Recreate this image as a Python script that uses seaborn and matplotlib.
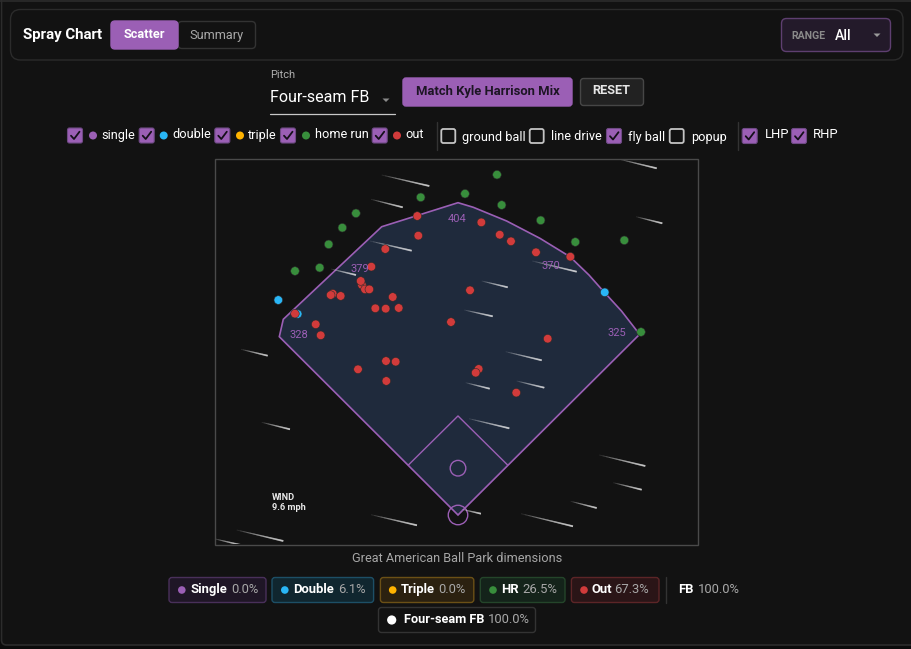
"""Spray chart: batted balls on a park outline, with the page controls around it."""

import matplotlib.pyplot as plt
import numpy as np
import pandas as pd
import seaborn as sns
from matplotlib.patches import Circle, FancyBboxPatch, Polygon, Rectangle

# batted balls, feet from home plate
double_x = [-230.4, -205.5, 188.1]
double_y = [275.6, 257.7, 285.5]
hr_x = [-47.8, -130.8, -148.3, -165.8, -209.0, -177.3, 50.0, 9.0, 56.0, 106.0, 150.4, 213.2, 234.6]
hr_y = [407.3, 386.8, 368.3, 347.0, 312.8, 317.0, 436.3, 411.9, 397.4, 377.8, 350.0, 352.2, 234.6]
out_x = [-52.2, -50.9, -93.2, -111.1, -123.1, -124.7, -119.2, -113.7, -160.6, -163.2, -150.4,
         -83.7, -106.0, -92.7, -76.0, -9.0, -209.0, -182.4, -176.0, 29.9, 53.5, 67.9, 100.0,
         144.0, 15.4, 115.0, -92.3, -79.9, -128.2, -91.9, 26.5, 22.7, 74.7]
out_y = [383.3, 358.1, 341.0, 318.3, 294.9, 300.0, 289.3, 289.3, 283.7, 282.0, 280.8,
         279.5, 265.0, 264.5, 265.4, 247.4, 258.1, 244.5, 230.4, 375.2, 359.3, 350.9, 336.8,
         331.1, 288.1, 226.0, 197.4, 196.5, 186.8, 171.8, 187.2, 182.4, 156.8]

# park outline, feet from home plate
wall_x = [0, -229.1, -224.0, -97.8, 0, 19.6, 62.4, 105.1, 143.6, 167.9, 187.6, 209.6, 229.5, 232.0]
wall_y = [0, 228.6, 250.9, 369.6, 400.4, 394.5, 376.9, 354.7, 331.1, 307.7, 285.5, 261.5, 235.9, 230.8]
dim_labels = ["328", "379", "404", "370", "325"]

# summary chips
chip_names = ["Single", "Double", "Triple", "HR", "Out"]
chip_pcts = ["0.0%", "6.1%", "0.0%", "26.5%", "67.3%"]

# wind streaks in page pixels (x0, y0, x1, y1)
wind_streaks = [
    (381.7, 175, 429.3, 186), (371, 199.3, 402.7, 207.3), (370, 241, 411.7, 250.7),
    (331, 269, 356, 275), (241, 349.3, 267.7, 355.7), (261.7, 422.3, 290, 429.3),
    (371, 514.7, 417, 525.3), (236.7, 530, 283.3, 541), (214, 538.7, 240.7, 545),
    (618.3, 159, 656.7, 168.3), (636, 216.7, 662.3, 223.3), (532.3, 261, 576.7, 271.7),
    (481.7, 281, 507.7, 287.3), (464.3, 310, 492.7, 316.3), (505.7, 351.7, 541.7, 360.3),
    (465.7, 382.7, 489.7, 388.7), (516.7, 381, 544.3, 387.7), (469, 418.7, 509.3, 428.3),
    (599.3, 455, 645.3, 466), (613.3, 482.7, 641.7, 489.7), (570.7, 501.3, 596.7, 508),
    (521, 513.7, 573, 526.3), (461.7, 509.3, 481, 513.7),
]

BG = "#121212"
PURPLE = "#9b5fb5"
FIELD = "#1f2a3c"
COLORS = {"single": PURPLE, "double": "#29b6f6", "triple": "#ffb300", "home run": "#388e3c", "out": "#d13b3b"}
PX_PER_FT = 0.78
HOME_PX = (458.0, 515.0)
W, H = 911, 649


def ft_x(px):
    return (np.asarray(px) - HOME_PX[0]) / PX_PER_FT


def ft_y(py):
    return (HOME_PX[1] - np.asarray(py)) / PX_PER_FT


def box(ax, x0, y0, x1, y1, face="none", edge="#333333", r=4, lw=1.0, z=2):
    ax.add_patch(FancyBboxPatch(
        (x0 + r, y0 + r), x1 - x0 - 2 * r, y1 - y0 - 2 * r,
        boxstyle=f"round,pad={r},rounding_size={r}",
        fc=face, ec=edge, lw=lw, zorder=z,
    ))


def label(ax, x, y, s, px=14, color="white", weight="normal", ha="left", **kw):
    ax.text(x, y, s, fontsize=px * 0.72, color=color, fontweight=weight, ha=ha, va="center", zorder=5, **kw)


def checkbox(ax, x, y, checked=True):
    if checked:
        box(ax, x - 7.5, y - 7.5, x + 7.5, y + 7.5, face=PURPLE, edge="#6f4a85", r=2, lw=0.8)
        ax.plot([x - 4, x - 1, x + 4.5], [y + 0.2, y + 3.5, y - 3.8], color="#15101a", lw=1.3, zorder=4)
    else:
        box(ax, x - 7, y - 7, x + 7, y + 7, edge="#c4c4c4", r=2, lw=1.3)


def dot(ax, x, y, color, r=3.8):
    ax.add_patch(Circle((x, y), r, fc=color, ec="none", zorder=4))


def draw_page(ax):
    ax.set_xlim(0, W)
    ax.set_ylim(H, 0)
    ax.axis("off")

    box(ax, 1.5, -10, 925, 645, face=BG, edge="#2c2c2c", r=5, lw=1.2, z=0)
    ax.plot([0, W], [0.5, 0.5], color="#2c2c2c", lw=1.2, zorder=1)

    # header
    box(ax, 10.5, 9.5, 903, 60, edge="#2b2b2b", r=10)
    label(ax, 23, 35, "Spray Chart", px=15, weight="bold")
    box(ax, 178, 21.5, 255.5, 48.5, edge="#333333", r=4)
    box(ax, 111, 21, 178, 49, face=PURPLE, edge=PURPLE, r=4)
    label(ax, 144.5, 35, "Scatter", px=12.8, weight="bold", ha="center")
    label(ax, 216.5, 35, "Summary", px=12.8, color="#a8a8a8", ha="center")
    box(ax, 781.5, 18.5, 890.5, 51.5, face="#231a2a", edge="#5e3f70", r=5)
    label(ax, 791, 36, "RANGE", px=10.5, color="#8a8a8a", weight="bold")
    label(ax, 834.5, 35.5, "All", px=14, weight="medium")
    ax.add_patch(Polygon([(873.5, 33.5), (880.5, 33.5), (877, 37)], fc="#9a9a9a", ec="none", zorder=4))

    # pitch selector row
    label(ax, 270, 74.5, "Pitch", px=11, color="#b0b0b0")
    label(ax, 270.5, 97.5, "Four-seam FB", px=16)
    ax.plot([270, 395], [113.5, 113.5], color="#c8c8c8", lw=0.9, zorder=3)
    ax.add_patch(Polygon([(382.5, 98.5), (389.5, 98.5), (386, 102)], fc="#8a8a8a", ec="none", zorder=4))
    box(ax, 403, 78, 572, 106, face=PURPLE, edge=PURPLE, r=3)
    label(ax, 487.5, 91.5, "Match Kyle Harrison Mix", px=13, color="#1d1524", weight="bold", ha="center")
    box(ax, 580.5, 78.5, 643.5, 105.5, face="#222222", edge="#464646", r=3)
    label(ax, 611.5, 91, "RESET", px=12.8, color="#e6e6e6", weight="bold", ha="center")

    # filters
    for x, dx, lx, name in zip([75, 146.7, 222.3, 288, 379.7], [93, 163.7, 240, 306, 397],
                               [101.5, 172.7, 248, 314.7, 405], COLORS):
        checkbox(ax, x, 135.5)
        dot(ax, dx, 135.5, COLORS[name], r=4)
        label(ax, lx, 135, name, px=12.8)
    ax.plot([436.7, 436.7], [122, 150], color="#333333", lw=1, zorder=3)
    for x, lx, name, on in zip([448.3, 536.7, 614, 676.7], [462, 551, 627.7, 690.7],
                               ["ground ball", "line drive", "fly ball", "popup"],
                               [False, False, True, False]):
        checkbox(ax, x, 136, on)
        label(ax, lx, 137, name, px=12.8)
    ax.plot([738, 738], [122, 150], color="#333333", lw=1, zorder=3)
    for x, lx, name in zip([749.7, 799], [764.7, 813], ["LHP", "RHP"]):
        checkbox(ax, x, 136)
        label(ax, lx, 135, name, px=13)

    # panel caption
    label(ax, 457, 558, "Great American Ball Park dimensions", px=12.75, color="#a6a6a6", ha="center")

    # summary chips
    chip_boxes = [(169, 266), (272, 373.6), (380.4, 473.8), (480.3, 565), (571.4, 659)]
    chip_faces = ["#1f1626", "#10262f", "#2b2110", "#14231a", "#2a1517"]
    chip_edges = ["#49305a", "#1d4f66", "#6b5016", "#24452a", "#5c2527"]
    dots_x = [181.8, 284.8, 392.7, 493, 584]
    names_x = [190.6, 293.6, 401, 501, 592]
    pcts_x = [230.8, 338, 438.2, 522, 613.9]
    for i, key in enumerate(COLORS):
        box(ax, chip_boxes[i][0], 577.5, chip_boxes[i][1], 602.5, face=chip_faces[i], edge=chip_edges[i], r=3)
        dot(ax, dots_x[i], 590, COLORS[key])
        label(ax, names_x[i], 589.5, chip_names[i], px=13, weight="bold")
        label(ax, pcts_x[i], 589.5, chip_pcts[i], px=13, color="#a8a8a8")
    ax.plot([665.5, 665.5], [577, 603], color="#333333", lw=1, zorder=3)
    label(ax, 678.6, 589.5, "FB", px=13, weight="bold")
    label(ax, 697.7, 589.5, "100.0%", px=13, color="#a8a8a8")
    box(ax, 378.5, 607.5, 535.5, 632.5, edge="#333333", r=3)
    dot(ax, 391.7, 620, "white", r=4.6)
    label(ax, 403.5, 619.5, "Four-seam FB", px=12.8, weight="bold")
    label(ax, 488, 619.5, "100.0%", px=13, color="#a8a8a8")


def draw_streaks(ax):
    # stacked faint lines that all end at the head, so the tail fades without seams
    for x0, y0, x1, y1 in wind_streaks:
        for t in np.linspace(0, 0.92, 14):
            ax.plot(
                ft_x([x0 + (x1 - x0) * t, x1]), ft_y([y0 + (y1 - y0) * t, y1]),
                color="white", alpha=0.1, lw=0.7 + 0.9 * t,
                solid_capstyle="butt", zorder=3,
            )


def draw_field(ax):
    ax.set_xlim(ft_x(216), ft_x(698))
    ax.set_ylim(ft_y(544), ft_y(159))
    ax.axis("off")

    ax.add_patch(Polygon(np.c_[wall_x, wall_y], closed=True, fc=FIELD, ec=PURPLE, lw=1.2, zorder=1))
    ax.plot([-63.7, 0, 63.7], [64, 127, 64], color=PURPLE, lw=1, zorder=2)
    ax.add_patch(Circle((0, 60), 10, fc="none", ec=PURPLE, lw=1, zorder=2))
    ax.add_patch(Circle((0, 0), 12.5, fc="none", ec=PURPLE, lw=1, zorder=2))

    draw_streaks(ax)

    hits = pd.DataFrame({
        "x": double_x + hr_x + out_x,
        "y": double_y + hr_y + out_y,
        "result": ["double"] * len(double_x) + ["home run"] * len(hr_x) + ["out"] * len(out_x),
    })
    sns.scatterplot(
        data=hits, x="x", y="y", hue="result", palette=COLORS,
        s=38, linewidth=0.4, edgecolor="#2a2a2a", legend=False, ax=ax, zorder=4,
    )
    ax.set_xlabel("")
    ax.set_ylabel("")

    dim_px = [(298.5, 335.5), (359.5, 269), (457.5, 219.5), (551, 266), (616.5, 333)]
    for (px, py), s in zip(dim_px, dim_labels):
        ax.text(ft_x(px), ft_y(py), s, color=PURPLE, fontsize=8, ha="center", va="center", zorder=5)
    ax.text(ft_x(272), ft_y(497), "WIND", color="#e8e8e8", fontsize=6.6, fontweight="bold", va="center", zorder=5)
    ax.text(ft_x(272), ft_y(508), "9.6 mph", color="#e8e8e8", fontsize=6.6, fontweight="bold", va="center", zorder=5)


sns.set_style("dark")
plt.rcParams["font.family"] = ["Roboto", "DejaVu Sans"]

fig = plt.figure(figsize=(W / 100, H / 100), dpi=100, facecolor="#0b0b0b")
page = fig.add_axes([0, 0, 1, 1])
draw_page(page)
field = fig.add_axes([216 / W, 1 - 544 / H, 482 / W, 385 / H])
field.patch.set_alpha(0)
draw_field(field)
# frame on top of the field, half a pixel outside the axes
page_frame = Rectangle((215 / W, 1 - 544.5 / H), 483 / W, 386 / H, transform=fig.transFigure,
                       fc="none", ec="#4a4a4a", lw=1, zorder=6)
fig.add_artist(page_frame)
fig.savefig("out.png", dpi=100, facecolor=fig.get_facecolor())
plt.close(fig)
